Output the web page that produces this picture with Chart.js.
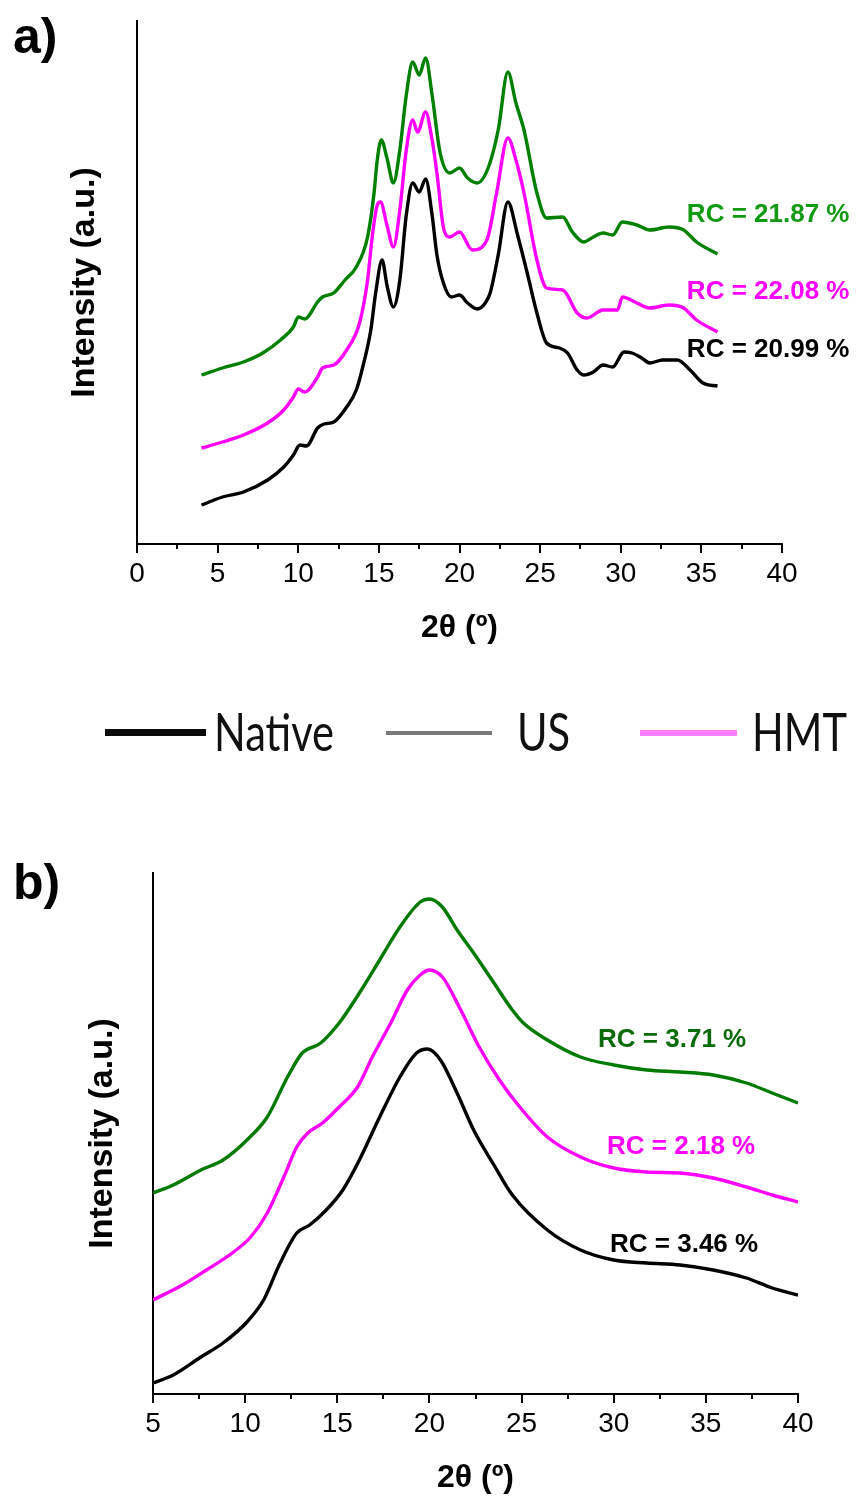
<!DOCTYPE html>
<html>
<head>
<meta charset="utf-8">
<script src="https://cdn.jsdelivr.net/npm/chart.js@4.4.1/dist/chart.umd.min.js"></script>
<style>
  html, body { margin: 0; padding: 0; background: #fff; }
  body { width: 860px; height: 1501px; position: relative; overflow: hidden; }
  canvas { position: absolute; left: 0; }
  #chartA { top: 0; }
  #chartB { top: 840px; }
  .panel { position: absolute; left: 13px; font: bold 50px 'Liberation Sans', Arial, sans-serif; line-height: 1; color: #000; }
  .legline { position: absolute; }
  .legtext { position: absolute; font: 52px Lato, 'Open Sans', sans-serif; line-height: 1; color: #111;
             transform: scaleX(0.8); transform-origin: 0 0; filter: blur(0.4px); }
</style>
</head>
<body>
<canvas id="chartA" width="860" height="660"></canvas>
<canvas id="chartB" width="860" height="661"></canvas>
<div class="panel" style="top:11px">a)</div>
<div class="panel" style="top:857px">b)</div>

<div class="legline" style="left:105px;top:729px;width:101px;height:7px;background:#0a0a0a;filter:blur(0.6px)"></div>
<div class="legtext" style="left:214px;top:705px">Native</div>
<div class="legline" style="left:386px;top:731px;width:106px;height:4px;background:#7a7a7a;filter:blur(0.6px)"></div>
<div class="legtext" style="left:517px;top:705px">US</div>
<div class="legline" style="left:640px;top:730px;width:97px;height:6px;background:#ff7dff;filter:blur(0.6px)"></div>
<div class="legtext" style="left:752px;top:705px">HMT</div>

<script>
// ---- panel a) data, 2theta (deg) and intensity (a.u.) ----
var nativeA_x = [4.0,5.3,6.6,8.1,9.1,9.7,10.1,10.5,11.2,11.6,12.2,13.0,13.6,14.0,14.5,14.8,15.2,15.5,15.9,16.3,16.7,17.1,17.5,17.9,18.3,18.6,19.0,19.5,20.0,20.5,21.1,21.6,21.9,22.4,23.0,23.6,24.2,24.8,25.4,26.2,26.7,27.3,27.7,28.3,28.9,29.5,30.2,30.7,31.3,31.8,32.6,33.5,34.3,35.1,36.0];
var nativeA_y = [39,47,52,64,77,89,99,98,116,120,122,137,154,177,214,251,284,259,237,264,329,361,352,365,329,289,261,247,249,241,235,241,251,289,342,309,271,231,201,196,191,174,169,172,179,177,192,191,186,181,184,184,174,161,158];

var usA_x = [4.0,5.3,6.6,7.8,8.9,9.7,10.0,10.4,11.2,11.5,12.2,12.9,13.6,14.3,14.7,14.9,15.15,15.5,15.9,16.3,16.7,17.1,17.5,17.9,18.3,18.8,19.4,20.0,20.5,21.1,21.8,22.4,23.0,23.5,24.0,24.8,25.4,26.4,27.0,27.7,28.3,28.9,29.5,30.1,31.0,31.8,33.0,33.9,34.7,36.0];
var usA_y = [169,176,182,191,204,217,227,225,242,247,251,264,277,307,351,384,404,386,361,394,449,482,469,486,449,391,371,376,366,361,377,414,472,441,414,351,326,327,312,302,307,311,309,322,319,314,317,314,302,290];

var hmtA_x = [4.0,5.3,6.6,8.1,9.1,9.7,10.0,10.4,11.2,11.5,12.2,13.0,13.8,14.3,14.6,14.9,15.1,15.5,15.9,16.3,16.7,17.1,17.4,17.9,18.3,18.6,19.0,19.4,20.0,20.8,21.7,22.3,23.0,23.5,24.0,24.8,25.4,26.4,27.3,27.9,28.9,29.8,30.1,31.0,31.8,33.0,33.9,34.7,36.0];
var hmtA_y = [96,102,109,121,134,147,155,152,167,176,179,194,221,264,309,339,342,319,297,334,394,424,412,432,404,371,317,307,312,294,304,351,406,384,351,284,256,254,231,226,234,234,247,241,236,239,236,224,212];

// ---- panel b) data ----
var nativeB_x = [5.0,6.1,7.6,8.8,10.1,11.0,11.9,12.8,13.5,14.4,15.3,16.2,17.3,18.4,19.3,19.9,20.6,21.5,22.4,23.5,24.5,26.4,28.2,30.0,31.8,33.6,35.4,37.2,38.6,40.0];
var nativeB_y = [11,19,37,51,72,94,131,161,169,184,204,234,277,317,341,345,334,301,264,229,199,164,144,134,131,129,124,116,106,99];

var usB_x = [5.0,6.1,7.6,8.8,10.1,11.2,12.3,13.1,14.1,15.1,16.2,17.3,18.4,19.5,20.0,20.7,21.5,22.4,23.5,24.5,25.1,26.4,28.2,30.0,31.8,33.6,35.4,37.2,38.6,40.0];
var usB_y = [201,209,224,234,254,277,317,341,351,371,401,434,467,492,495,487,464,441,411,384,371,354,337,329,324,322,319,311,301,291];

var hmtB_x = [5.0,6.6,7.9,9.3,10.3,11.2,12.1,12.8,13.4,14.2,15.1,16.1,16.9,17.9,18.8,19.5,20.0,20.7,21.7,22.7,23.8,24.9,26.4,28.2,30.0,31.8,33.6,35.4,37.2,38.6,40.0];
var hmtB_y = [94,109,124,141,157,181,217,247,261,271,287,307,337,371,404,419,424,417,384,347,314,287,257,237,226,222,221,216,207,199,192];

var rcTextA = ['RC = 21.87 %', 'RC = 22.08 %', 'RC = 20.99 %'];
var rcTextB = ['RC = 3.71 %', 'RC = 2.18 %', 'RC = 3.46 %'];

function pts(xs, ys) {
  return xs.map(function(x, i) { return { x: x, y: ys[i] }; });
}

function series(label, xs, ys, color) {
  return {
    label: label,
    data: pts(xs, ys),
    borderColor: color,
    backgroundColor: color,
    borderWidth: 3.4,
    pointRadius: 0,
    fill: false,
    cubicInterpolationMode: 'monotone'
  };
}

// minor x ticks (every 2.5) and the RC annotations
var extrasPlugin = {
  id: 'extras',
  afterDraw: function(chart) {
    var ctx = chart.ctx;
    var xs = chart.scales.x;
    var ys = chart.scales.y;
    ctx.save();
    ctx.strokeStyle = '#000';
    ctx.lineWidth = 2;
    for (var v = xs.min + 2.5; v < xs.max; v += 5) {
      var px = Math.round(xs.getPixelForValue(v));
      ctx.beginPath();
      ctx.moveTo(px, xs.top);
      ctx.lineTo(px, xs.top + 5);
      ctx.stroke();
    }
    var notes = chart.options.plugins.extras.notes || [];
    ctx.font = 'bold 26px "Liberation Sans", Arial, sans-serif';
    ctx.textBaseline = 'middle';
    ctx.textAlign = 'left';
    notes.forEach(function(n) {
      ctx.fillStyle = n.color;
      ctx.fillText(n.text, xs.getPixelForValue(n.x), ys.getPixelForValue(n.y));
    });
    ctx.restore();
  }
};

function makeChart(id, datasets, o) {
  var ctx = document.getElementById(id).getContext('2d');
  return new Chart(ctx, {
    type: 'line',
    data: { datasets: datasets },
    plugins: [extrasPlugin],
    options: {
      responsive: false,
      animation: false,
      devicePixelRatio: 1,
      layout: { padding: { left: 0, right: o.padRight, top: o.padTop, bottom: 0 } },
      plugins: {
        legend: { display: false },
        tooltip: { enabled: false },
        extras: { notes: o.notes }
      },
      scales: {
        x: {
          type: 'linear',
          min: o.xmin,
          max: 40,
          afterFit: function(s) { s.height = o.xHeight; },
          border: { display: true, color: '#000', width: 2 },
          grid: { display: true, drawOnChartArea: false, drawTicks: true, tickLength: 9, color: '#000', lineWidth: 2 },
          ticks: {
            stepSize: 5,
            autoSkip: false,
            maxRotation: 0,
            padding: 4,
            color: '#000',
            font: { family: '"Liberation Sans", Arial, sans-serif', size: 28 }
          },
          title: {
            display: true,
            text: '2θ (º)',
            color: '#000',
            font: { family: '"Liberation Sans", Arial, sans-serif', size: 32, weight: 'bold' },
            padding: { top: 0, bottom: o.xTitlePad }
          }
        },
        y: {
          type: 'linear',
          min: 0,
          max: o.ymax,
          afterFit: function(s) { s.width = o.yWidth; },
          border: { display: true, color: '#000', width: 2 },
          grid: { display: false },
          ticks: { display: false },
          title: {
            display: true,
            text: 'Intensity (a.u.)',
            color: '#000',
            font: { family: '"Liberation Sans", Arial, sans-serif', size: 34, weight: 'bold' },
            padding: { top: o.yTitlePad, bottom: 0 }
          }
        }
      }
    }
  });
}

makeChart('chartA', [
  series('Native', nativeA_x, nativeA_y, '#000000'),
  series('HMT', hmtA_x, hmtA_y, '#ff00ff'),
  series('US', usA_x, usA_y, '#008000')
], {
  xmin: 0, ymax: 523, padTop: 21, padRight: 78, yWidth: 137, xHeight: 116,
  xTitlePad: 12.8, yTitlePad: 64.6,
  notes: [
    { text: rcTextA[0], x: 34.1, y: 329, color: '#139a13' },
    { text: rcTextA[1], x: 34.1, y: 252, color: '#ff00ff' },
    { text: rcTextA[2], x: 34.1, y: 194, color: '#000000' }
  ]
});

makeChart('chartB', [
  series('Native', nativeB_x, nativeB_y, '#000000'),
  series('HMT', hmtB_x, hmtB_y, '#ff00ff'),
  series('US', usB_x, usB_y, '#007a00')
], {
  xmin: 5, ymax: 521, padTop: 33, padRight: 62, yWidth: 153, xHeight: 107,
  xTitlePad: 3.8, yTitlePad: 82.6,
  notes: [
    { text: rcTextB[0], x: 29.15, y: 354, color: '#0b6b0b' },
    { text: rcTextB[1], x: 29.64, y: 247, color: '#ff00ff' },
    { text: rcTextB[2], x: 29.8, y: 149, color: '#000000' }
  ]
});
</script>
</body>
</html>
